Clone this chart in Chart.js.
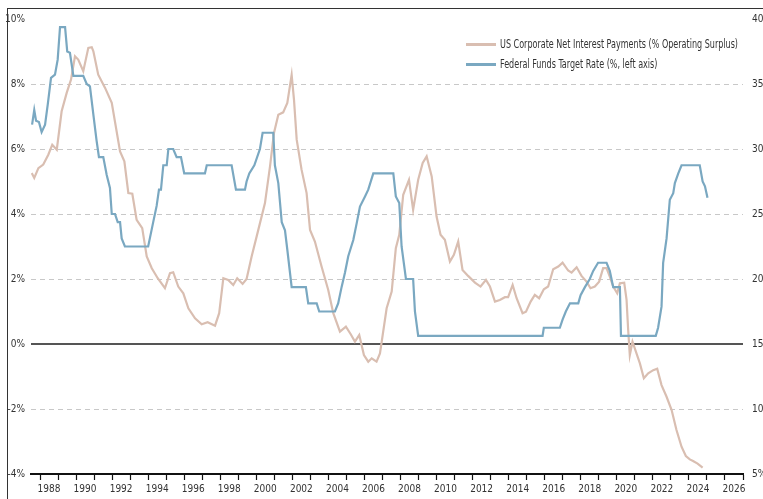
<!DOCTYPE html>
<html>
<head>
<meta charset="utf-8">
<script src="https://cdn.jsdelivr.net/npm/chart.js@4.4.1/dist/chart.umd.min.js"></script>
<style>
  html, body { margin: 0; padding: 0; background: #fff; overflow: hidden; }
  body { width: 763px; height: 499px; position: relative; }
  #frame { position: absolute; left: 7px; top: 8px; right: 0; bottom: 0; border-left: 1px solid #333; border-top: 1px solid #333; pointer-events: none; }
  #chartCanvas { position: absolute; left: 0; top: 0; }
  #legend { position: absolute; left: 466px; top: 34px; font-family: 'Liberation Sans Narrow', 'DejaVu Sans Condensed', sans-serif; font-size: 11.5px; color: #333; white-space: nowrap; }
  .item { height: 20px; display: flex; align-items: center; }
  .swatch { width: 30px; height: 3px; margin-right: 4px; flex: none; }
  .text { display: inline-block; transform-origin: left center; }
</style>
</head>
<body>
<canvas id="chartCanvas" width="783" height="499"></canvas>
<div id="frame"></div>
<div id="legend"></div>
<script>
// fed funds target rate (%, left axis) - vertices
const fedDates = [1987.56, 1987.68, 1987.78, 1987.94, 1988.09, 1988.28, 1988.43, 1988.61, 1988.83, 1988.98,
  1989.11, 1989.39, 1989.51, 1989.66, 1989.85, 1990.40, 1990.59, 1990.77, 1990.96, 1991.14, 1991.27, 1991.51,
  1991.70, 1991.88, 1991.98, 1992.16, 1992.31, 1992.44, 1992.53, 1992.71, 1994.00, 1994.28, 1994.47, 1994.60,
  1994.71, 1994.84, 1995.03, 1995.12, 1995.39, 1995.58, 1995.82, 1996.00, 1997.15, 1997.25, 1998.63, 1998.87,
  1999.37, 1999.46, 1999.61, 1999.89, 2000.20, 2000.35, 2000.94, 2001.03, 2001.22, 2001.41, 2001.59, 2001.72,
  2001.96, 2002.75, 2002.88, 2003.35, 2003.49, 2004.36, 2004.54, 2004.73, 2004.92, 2005.10, 2005.38, 2005.57,
  2005.75, 2006.03, 2006.21, 2006.49, 2007.60, 2007.74, 2007.93, 2008.06, 2008.30, 2008.70, 2008.80, 2008.98,
  2015.88, 2015.95, 2016.84, 2016.99, 2017.17, 2017.40, 2017.86, 2017.99, 2018.23, 2018.50, 2018.69, 2018.96,
  2019.43, 2019.61, 2019.80, 2020.17, 2020.23, 2022.16, 2022.29, 2022.48, 2022.57, 2022.76, 2022.94, 2023.13,
  2023.22, 2023.41, 2023.59, 2024.60, 2024.76, 2024.89, 2025.03];
const fedRates = [6.75, 7.2, 6.87, 6.83, 6.52, 6.75, 7.37, 8.19, 8.29, 8.75,
  9.75, 9.75, 9.0, 8.96, 8.25, 8.25, 8.0, 7.93, 7.06, 6.25, 5.75, 5.75,
  5.2, 4.8, 4.0, 4.0, 3.75, 3.75, 3.25, 3.0, 3.0, 3.75, 4.25, 4.75,
  4.75, 5.5, 5.5, 6.0, 6.0, 5.75, 5.75, 5.25, 5.25, 5.5, 5.5, 4.75,
  4.75, 5.0, 5.25, 5.5, 6.0, 6.5, 6.5, 5.5, 4.95, 3.75, 3.5, 2.9,
  1.75, 1.75, 1.25, 1.25, 1.0, 1.0, 1.25, 1.75, 2.2, 2.7, 3.2, 3.72,
  4.23, 4.54, 4.75, 5.25, 5.25, 4.54, 4.34, 3.0, 2.0, 2.0, 1.0, 0.25,
  0.25, 0.5, 0.5, 0.75, 1.0, 1.25, 1.25, 1.5, 1.75, 2.0, 2.25, 2.5,
  2.5, 2.25, 1.75, 1.75, 0.25, 0.25, 0.5, 1.15, 2.5, 3.25, 4.44, 4.64,
  4.95, 5.25, 5.5, 5.5, 5.0, 4.85, 4.5];

// US corporate net interest payments (% operating surplus, right axis)
const interestDates = [1987.54, 1987.68, 1987.91, 1988.18, 1988.46, 1988.68, 1988.93, 1989.20, 1989.48, 1989.72,
  1989.94, 1990.12, 1990.40, 1990.68, 1990.87, 1990.96, 1991.23, 1991.61, 1991.98, 1992.44, 1992.68, 1992.90,
  1993.12, 1993.36, 1993.67, 1993.92, 1994.20, 1994.53, 1994.93, 1995.21, 1995.39, 1995.67, 1995.95, 1996.23,
  1996.60, 1996.97, 1997.30, 1997.71, 1997.94, 1998.17, 1998.44, 1998.72, 1998.94, 1999.24, 1999.46, 1999.74,
  2000.11, 2000.48, 2000.76, 2000.98, 2001.22, 2001.49, 2001.72, 2001.96, 2002.09, 2002.24, 2002.51, 2002.79,
  2002.98, 2003.25, 2003.62, 2003.99, 2004.27, 2004.64, 2004.97, 2005.23, 2005.47, 2005.71, 2005.97, 2006.21,
  2006.40, 2006.67, 2006.86, 2007.23, 2007.51, 2007.74, 2007.93, 2008.15, 2008.47, 2008.70, 2008.98, 2009.23,
  2009.45, 2009.73, 2010.00, 2010.22, 2010.46, 2010.74, 2010.96, 2011.20, 2011.44, 2011.75, 2012.13, 2012.44,
  2012.74, 2012.96, 2013.24, 2013.51, 2013.79, 2013.97, 2014.22, 2014.44, 2014.77, 2014.96, 2015.22, 2015.45,
  2015.69, 2015.95, 2016.19, 2016.47, 2016.75, 2016.99, 2017.30, 2017.49, 2017.77, 2018.04, 2018.32, 2018.54,
  2018.78, 2019.02, 2019.24, 2019.43, 2019.61, 2019.80, 2020.02, 2020.17, 2020.41, 2020.54, 2020.63, 2020.72,
  2020.87, 2021.28, 2021.50, 2021.74, 2022.02, 2022.24, 2022.48, 2022.76, 2023.04, 2023.31, 2023.59, 2023.83,
  2024.05, 2024.23, 2024.48, 2024.76];
const interestShare = [28.15, 27.77, 28.53, 28.8, 29.56, 30.33, 29.95, 32.9, 34.32, 35.34,
  37.13, 36.88, 35.98, 37.78, 37.83, 37.52, 35.72, 34.7, 33.55, 29.82, 29.05, 26.61,
  26.56, 24.55, 23.91, 21.73, 20.83, 20.06, 19.29, 20.45, 20.52, 19.42, 18.9, 17.75,
  16.98, 16.52, 16.67, 16.41, 17.37, 20.06, 19.93, 19.54, 20.06, 19.62, 20.0, 21.73,
  23.78, 25.84, 28.66, 31.23, 32.64, 32.82, 33.55, 35.7, 33.8, 30.72, 28.41, 26.61,
  23.78, 22.88, 20.96, 19.16, 17.37, 15.95, 16.33, 15.77, 15.18, 15.69, 14.15, 13.64,
  13.9, 13.64, 14.28, 17.75, 19.03, 22.37, 23.4, 26.48, 27.63, 25.32, 27.63, 28.92,
  29.43, 27.89, 24.8, 23.4, 23.01, 21.34, 21.86, 22.88, 20.7, 20.24, 19.72, 19.42,
  19.93, 19.42, 18.26, 18.39, 18.6, 18.6, 19.54, 18.52, 17.37, 17.49, 18.26, 18.78,
  18.52, 19.21, 19.42, 20.75, 20.96, 21.26, 20.65, 20.49, 20.9, 20.24, 19.8, 19.29,
  19.42, 19.8, 20.83, 20.83, 20.18, 19.42, 18.9, 19.67, 19.72, 18.39, 16.08, 14.15,
  15.18, 13.51, 12.36, 12.74, 12.99, 13.1, 11.84, 10.94, 9.92, 8.38, 7.1, 6.38,
  6.12, 6.0, 5.8, 5.49];

const yearTicks = [];
for (let y = 1988; y <= 2027; y++) yearTicks.push(y);
const leftTicks = [-4, -2, 0, 2, 4, 6, 8, 10];
const rightTicks = [5, 10, 15, 20, 25, 30, 35, 40];

const series = [
  { label: 'US Corporate Net Interest Payments (% Operating Surplus)', color: '#d9beb1' },
  { label: 'Federal Funds Target Rate (%, left axis)', color: '#7aa8c1' }
];

const font = "'Liberation Sans Narrow', 'DejaVu Sans Condensed', sans-serif";

const ctx = document.getElementById('chartCanvas').getContext('2d');
new Chart(ctx, {
  type: 'line',
  data: {
    datasets: [{
      label: series[1].label,
      data: fedDates.map((d, i) => ({ x: d, y: fedRates[i] })),
      borderColor: series[1].color,
      borderWidth: 2.2,
      pointRadius: 0,
      yAxisID: 'y'
    }, {
      label: series[0].label,
      data: interestDates.map((d, i) => ({ x: d, y: interestShare[i] })),
      borderColor: series[0].color,
      borderWidth: 2.2,
      pointRadius: 0,
      yAxisID: 'y2'
    }]
  },
  options: {
    responsive: false,
    animation: false,
    layout: { padding: { top: 19, bottom: 0, left: 0, right: 0 } },
    plugins: { legend: { display: false }, tooltip: { enabled: false } },
    scales: {
      x: {
        type: 'linear',
        min: 1987.5,
        max: 2027,
        afterBuildTicks: s => { s.ticks = yearTicks.map(v => ({ value: v })); },
        afterFit: s => { s.height = 25; },
        grid: { drawOnChartArea: false, drawTicks: true, tickLength: 6, tickColor: '#111', tickWidth: 1.2 },
        border: { display: true, color: '#111', width: 2 },
        ticks: {
          autoSkip: false,
          maxRotation: 0,
          labelOffset: 9,
          padding: 3,
          color: '#333',
          font: { family: font, size: 10 },
          callback: v => (v % 2 === 0 && v < 2027) ? String(v) : ''
        }
      },
      y: {
        position: 'left',
        min: -4,
        max: 10,
        afterBuildTicks: s => { s.ticks = leftTicks.map(v => ({ value: v })); },
        afterFit: s => { s.width = 31; },
        grid: {
          drawTicks: false,
          color: c => c.tick.value === 0 ? '#555' : (c.tick.value === 10 || c.tick.value === -4) ? 'rgba(0,0,0,0)' : '#c8c8c8',
          lineWidth: c => c.tick.value === 0 ? 2 : 1
        },
        border: { display: false, dash: c => (c.tick && c.tick.value === 0) ? [] : [5, 4] },
        ticks: { padding: 6, color: '#333', font: { family: font, size: 10 }, callback: v => v + '%' }
      },
      y2: {
        position: 'right',
        min: 5,
        max: 40,
        afterBuildTicks: s => { s.ticks = rightTicks.map(v => ({ value: v })); },
        afterFit: s => { s.width = 40; },
        grid: { drawOnChartArea: false, drawTicks: false },
        border: { display: false },
        ticks: { padding: 9, color: '#333', font: { family: font, size: 10 }, callback: v => v + '%' }
      }
    }
  }
});

// legend, squeezed horizontally to the narrow face of the original
const legend = document.getElementById('legend');
const texts = series.map(s => {
  const row = document.createElement('div');
  row.className = 'item';
  row.innerHTML = '<span class="swatch" style="background:' + s.color + '"></span><span class="text">' + s.label + '</span>';
  legend.appendChild(row);
  return row.querySelector('.text');
});
const squeeze = 238 / texts[0].getBoundingClientRect().width;
texts.forEach(t => { t.style.transform = 'scaleX(' + squeeze + ')'; });
</script>
</body>
</html>
